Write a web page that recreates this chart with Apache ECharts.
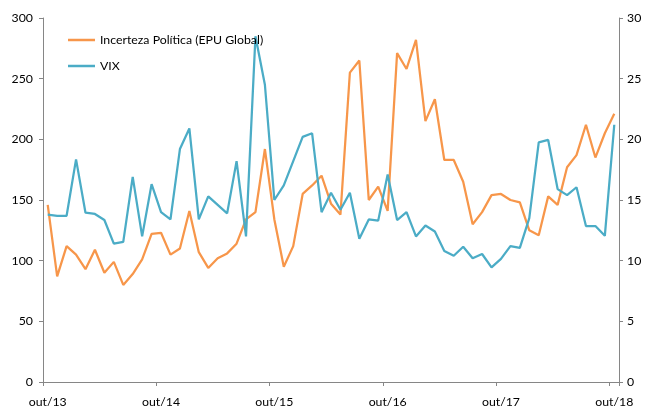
<!DOCTYPE html>
<html>
<head>
<meta charset="utf-8">
<script src="https://cdn.jsdelivr.net/npm/echarts@6/dist/echarts.min.js"></script>
<style>
html,body{margin:0;padding:0;background:#fff;}
#chart{width:648px;height:412px;}
</style>
</head>
<body>
<div id="chart"></div>
<script>
// Months from out/13 to out/18
const monthNames = ['jan','fev','mar','abr','mai','jun','jul','ago','set','out','nov','dez'];
const categories = [];
for (let y = 2013, m = 9; !(y === 2018 && m === 10); ) {
  categories.push(monthNames[m] + '/' + String(y).slice(2));
  m++; if (m === 12) { m = 0; y++; }
}

const epuGlobal = [146, 87, 112, 105, 93, 109, 90, 99, 80, 89, 101, 122, 123, 105, 110, 141, 107, 94, 102, 106,
  114, 134, 140, 192, 134, 95, 112, 155, 162, 170, 147, 138, 255, 265, 150, 161, 141, 271, 258, 282,
  215, 233, 183, 183, 165, 130, 140, 154, 155, 150, 148, 125, 121, 153, 146, 177, 187, 212, 185, 205, 221];

const vix = [13.8, 13.7, 13.7, 18.35, 13.95, 13.85, 13.35, 11.4, 11.55, 16.9, 12.0, 16.3, 14.0, 13.4, 19.2, 20.9, 13.4, 15.3, 14.6, 13.9,
  18.2, 12.0, 28.5, 24.5, 15.0, 16.2, 18.2, 20.2, 20.5, 14.0, 15.6, 14.2, 15.6, 11.8, 13.4, 13.3, 17.1, 13.35, 14.0, 12.0,
  12.9, 12.4, 10.8, 10.4, 11.15, 10.2, 10.55, 9.45, 10.15, 11.2, 11.05, 13.5, 19.75, 19.95, 15.9, 15.4, 16.05, 12.85, 12.85, 12.05, 21.2];

const seriesNames = ['Incerteza Política (EPU Global)', 'VIX'];
const leftTicks = [0, 300, 50];
const rightTicks = [0, 30, 5];

const FONT = 'Lato';
const axisLineStyle = { color: '#868686', width: 1 };

const chart = echarts.init(document.getElementById('chart'));
chart.setOption({
  animation: false,
  backgroundColor: '#fff',
  textStyle: { fontFamily: FONT },
  grid: { left: 43, right: 29, top: 18, bottom: 30, containLabel: false },
  legend: {
    orient: 'vertical',
    left: 63, top: 28,
    icon: 'rect',
    itemWidth: 27, itemHeight: 2.5, itemGap: 12,
    textStyle: { fontFamily: FONT, fontSize: 12.3, color: '#000', lineHeight: 14 },
    data: seriesNames
  },
  xAxis: {
    type: 'category',
    data: categories,
    boundaryGap: true,
    axisLine: { lineStyle: axisLineStyle },
    axisTick: { show: true, interval: 11, length: 4, lineStyle: axisLineStyle },
    axisLabel: { interval: 11, margin: 14, fontSize: 12.3, color: '#000', fontFamily: FONT }
  },
  yAxis: [
    {
      type: 'value', min: leftTicks[0], max: leftTicks[1], interval: leftTicks[2],
      splitLine: { show: false },
      axisLine: { show: true, lineStyle: axisLineStyle },
      axisTick: { show: true, length: 4, lineStyle: axisLineStyle },
      axisLabel: { fontSize: 12.3, color: '#000', margin: 10, fontFamily: FONT }
    },
    {
      type: 'value', min: rightTicks[0], max: rightTicks[1], interval: rightTicks[2],
      position: 'right',
      splitLine: { show: false },
      axisLine: { show: true, lineStyle: axisLineStyle },
      axisTick: { show: true, length: 4, lineStyle: axisLineStyle },
      axisLabel: { fontSize: 12.3, color: '#000', margin: 8, fontFamily: FONT }
    }
  ],
  series: [
    {
      name: seriesNames[0], type: 'line', yAxisIndex: 0, data: epuGlobal,
      symbol: 'none', lineStyle: { color: '#F7964A', width: 2.25 }, itemStyle: { color: '#F7964A' }
    },
    {
      name: seriesNames[1], type: 'line', yAxisIndex: 1, data: vix,
      symbol: 'none', lineStyle: { color: '#4BACC6', width: 2.25 }, itemStyle: { color: '#4BACC6' }
    }
  ]
});
</script>
</body>
</html>
